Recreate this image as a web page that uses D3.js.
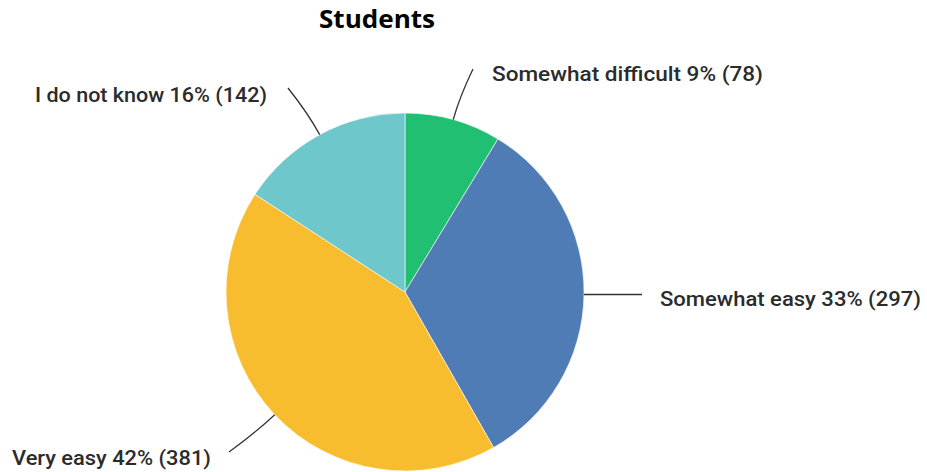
<!DOCTYPE html>
<html>
<head>
<meta charset="utf-8">
<script src="https://cdn.jsdelivr.net/npm/d3@7"></script>
<style>
  html, body { margin: 0; padding: 0; background: #fff; }
  svg { display: block; }
</style>
</head>
<body>
<svg id="chart" width="927" height="472"></svg>
<script>
// Survey answers, clockwise from 12 o'clock
const categories = ["Somewhat difficult", "Somewhat easy", "Very easy", "I do not know"];
const counts = [78, 297, 381, 142];
const percents = [9, 33, 42, 16];
const colors = ["#20bf72", "#507cb6", "#f7bd2e", "#6ec8cb"];
const title = "Students";

// Label placement: end of each leader line and where its text sits
const labelLayout = [
  { end: [473, 69],  textX: 492, textY: 81,  anchor: "start", width: 271 },
  { end: [642, 294], textX: 660, textY: 306, anchor: "start", width: 261 },
  { end: [229, 452], textX: 12,  textY: 465, anchor: "start", width: 199 },
  { end: [288, 88],  textX: 35,  textY: 102, anchor: "start", width: 232 }
];

const svg = d3.select("#chart");
const cx = 405, cy = 292, radius = 179;

svg.append("text")
  .attr("x", 377).attr("y", 28)
  .attr("text-anchor", "middle")
  .attr("font-family", "'Open Sans', 'Liberation Sans', sans-serif")
  .attr("font-weight", 700)
  .attr("font-size", 25)
  .attr("fill", "#000")
  .attr("textLength", 116)
  .attr("lengthAdjust", "spacingAndGlyphs")
  .text(title);

const data = categories.map((c, i) => ({ name: c, value: counts[i], pct: percents[i], color: colors[i], layout: labelLayout[i] }));

const pie = d3.pie().value(d => d.value).sort(null);
const arc = d3.arc().innerRadius(0).outerRadius(radius);
const arcs = pie(data);

const g = svg.append("g").attr("transform", `translate(${cx},${cy})`);

g.selectAll("path.slice")
  .data(arcs)
  .join("path")
  .attr("class", "slice")
  .attr("d", arc)
  .attr("fill", d => d.data.color)
  .attr("stroke", "#fff")
  .attr("stroke-width", 0.6);

// Leader lines: start on the rim at the slice's mid angle, bend outward, finish at the label
const lines = svg.append("g");
arcs.forEach(a => {
  const mid = (a.startAngle + a.endAngle) / 2;
  const sx = cx + radius * Math.sin(mid), sy = cy - radius * Math.cos(mid);
  const cr = radius + 24;
  const kx = cx + cr * Math.sin(mid), ky = cy - cr * Math.cos(mid);
  const [ex, ey] = a.data.layout.end;
  const p = d3.path();
  p.moveTo(sx, sy);
  if (Math.abs(ey - sy) < 3) {
    p.lineTo(ex, sy);
  } else {
    p.quadraticCurveTo(kx, ky, ex, ey);
  }
  lines.append("path")
    .attr("d", p.toString())
    .attr("fill", "none")
    .attr("stroke", "#333")
    .attr("stroke-width", 1.3);
});

svg.append("g").selectAll("text")
  .data(arcs)
  .join("text")
  .attr("x", d => d.data.layout.textX)
  .attr("y", d => d.data.layout.textY)
  .attr("text-anchor", d => d.data.layout.anchor)
  .attr("font-family", "Roboto, 'Noto Sans', sans-serif")
  .attr("font-weight", 500)
  .attr("font-size", 21)
  .attr("fill", "#2b2b2b")
  .attr("textLength", d => d.data.layout.width)
  .attr("lengthAdjust", "spacingAndGlyphs")
  .text(d => `${d.data.name} ${d.data.pct}% (${d.data.value})`);
</script>
</body>
</html>
